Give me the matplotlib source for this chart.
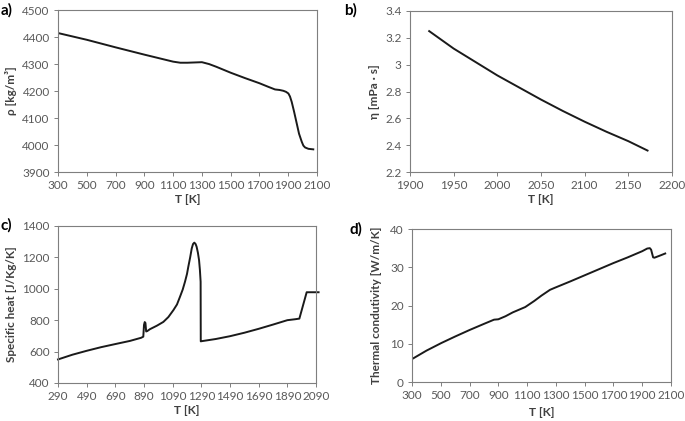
import matplotlib
matplotlib.use('Agg')
import matplotlib.pyplot as plt
from matplotlib.ticker import FuncFormatter

plt.rcParams['font.family'] = ['Lato', 'DejaVu Sans']

# a) density
t_rho = [300, 500, 700, 900, 1000, 1100, 1150, 1200, 1250, 1300, 1350, 1400, 1500, 1600, 1700,
         1760, 1808, 1840, 1866, 1885, 1901, 1912, 1924, 1940, 1959, 1975, 1994, 2005, 2017, 2040, 2074]
rho = [4415, 4390, 4362, 4335, 4322, 4309, 4305, 4305, 4306, 4307, 4300, 4290, 4268, 4248, 4229,
       4216, 4206, 4204, 4201, 4197, 4191, 4180, 4160, 4125, 4080, 4042, 4012, 3998, 3991, 3986, 3984]

# b) viscosity
t_eta = [1922, 1950, 1975, 2000, 2025, 2050, 2075, 2100, 2125, 2150, 2172]
eta = [3.25, 3.12, 3.02, 2.92, 2.83, 2.74, 2.655, 2.575, 2.50, 2.43, 2.36]

# c) specific heat
t_cp = [290, 390, 490, 590, 690, 792, 870, 885, 890, 895, 900, 905, 913, 932, 980, 1025, 1060, 1095,
        1120, 1141, 1160, 1176, 1190, 1199, 1212, 1223, 1232, 1241, 1250, 1257, 1266, 1274, 1280, 1285,
        1286, 1290, 1390, 1490, 1590, 1690, 1790, 1890, 1944, 1974, 2025, 2060, 2108]
cp = [550, 580, 605, 628, 648, 668, 688, 695, 770, 788, 782, 728, 731, 743, 765, 789, 820, 864,
      900, 949, 995, 1045, 1095, 1140, 1200, 1257, 1285, 1294, 1285, 1268, 1230, 1183, 1120, 1045,
      665, 666, 680, 698, 720, 745, 772, 800, 806, 810, 978, 978, 978]

# d) thermal conductivity
t_k = [300, 400, 504, 600, 700, 800, 870, 900, 950, 1000, 1087, 1150, 1200, 1259, 1290, 1400,
       1500, 1600, 1700, 1800, 1900, 1935, 1953, 1962, 1969, 1976, 1985, 2020, 2060]
k = [6.0, 8.2, 10.2, 11.9, 13.6, 15.2, 16.3, 16.4, 17.2, 18.2, 19.6, 21.2, 22.6, 24.1, 24.6, 26.3,
     27.9, 29.5, 31.1, 32.6, 34.2, 34.9, 35.0, 34.6, 33.6, 32.6, 32.5, 33.0, 33.6]

fig = plt.figure(figsize=(6.85, 4.21), dpi=100)

grey = '#7f7f7f'
tick_c = '#595959'
lab_c = '#404040'
fs = 8.5


def style(ax):
    for s in ax.spines.values():
        s.set_color(grey)
        s.set_linewidth(0.8)
    ax.tick_params(direction='out', length=3, width=0.7, color=grey,
                   labelsize=fs, labelcolor=tick_c, pad=3)


axa = fig.add_axes([0.0847, 0.5914, 0.3781, 0.3846])
axa.plot(t_rho, rho, color='#1a1a1a', lw=1.4)
axa.set_xlim(300, 2100)
axa.set_ylim(3900, 4500)
axa.set_xticks(range(300, 2101, 200))
axa.set_yticks(range(3900, 4501, 100))
axa.set_xlabel('T [K]', fontsize=fs, fontweight='bold', color=lab_c, labelpad=2)
axa.set_ylabel('ρ [kg/m³]', fontsize=fs, fontweight='bold', color=lab_c, labelpad=4)
style(axa)

axb = fig.add_axes([0.5985, 0.5914, 0.3825, 0.3825])
axb.plot(t_eta, eta, color='#1a1a1a', lw=1.4)
axb.set_xlim(1900, 2200)
axb.set_ylim(2.2, 3.4)
axb.set_xticks(range(1900, 2201, 50))
axb.set_yticks([2.2, 2.4, 2.6, 2.8, 3.0, 3.2, 3.4])
axb.yaxis.set_major_formatter(FuncFormatter(lambda v, p: '%g' % round(v, 1)))
axb.set_xlabel('T [K]', fontsize=fs, fontweight='bold', color=lab_c, labelpad=2)
axb.set_ylabel('η [mPa · s]', fontsize=fs, fontweight='bold', color=lab_c, labelpad=4)
style(axb)

axc = fig.add_axes([0.0847, 0.0903, 0.3766, 0.3729])
axc.plot(t_cp, cp, color='#1a1a1a', lw=1.4, clip_on=False)
axc.set_xlim(290, 2090)
axc.set_ylim(400, 1400)
axc.set_xticks(range(290, 2091, 200))
axc.set_yticks(range(400, 1401, 200))
axc.set_xlabel('T [K]', fontsize=fs, fontweight='bold', color=lab_c, labelpad=2)
axc.set_ylabel('Specific heat [J/Kg/K]', fontsize=fs, fontweight='bold', color=lab_c, labelpad=4)
style(axc)

axd = fig.add_axes([0.6015, 0.0926, 0.3780, 0.3634])
axd.plot(t_k, k, color='#1a1a1a', lw=1.4)
axd.set_xlim(300, 2100)
axd.set_ylim(0, 40)
axd.set_xticks(range(300, 2101, 200))
axd.set_yticks(range(0, 41, 10))
axd.set_xlabel('T [K]', fontsize=fs, fontweight='bold', color=lab_c, labelpad=4)
axd.set_ylabel('Thermal condutivity [W/m/K]', fontsize=fs, fontweight='bold', color=lab_c, labelpad=6)
style(axd)

fig.text(0.001, 0.975, 'a)', fontsize=11, fontweight='bold', ha='left', va='center')
fig.text(0.502, 0.975, 'b)', fontsize=11, fontweight='bold', ha='left', va='center')
fig.text(0.001, 0.465, 'c)', fontsize=11, fontweight='bold', ha='left', va='center')
fig.text(0.510, 0.455, 'd)', fontsize=11, fontweight='bold', ha='left', va='center')

fig.savefig('out.png', dpi=100)
